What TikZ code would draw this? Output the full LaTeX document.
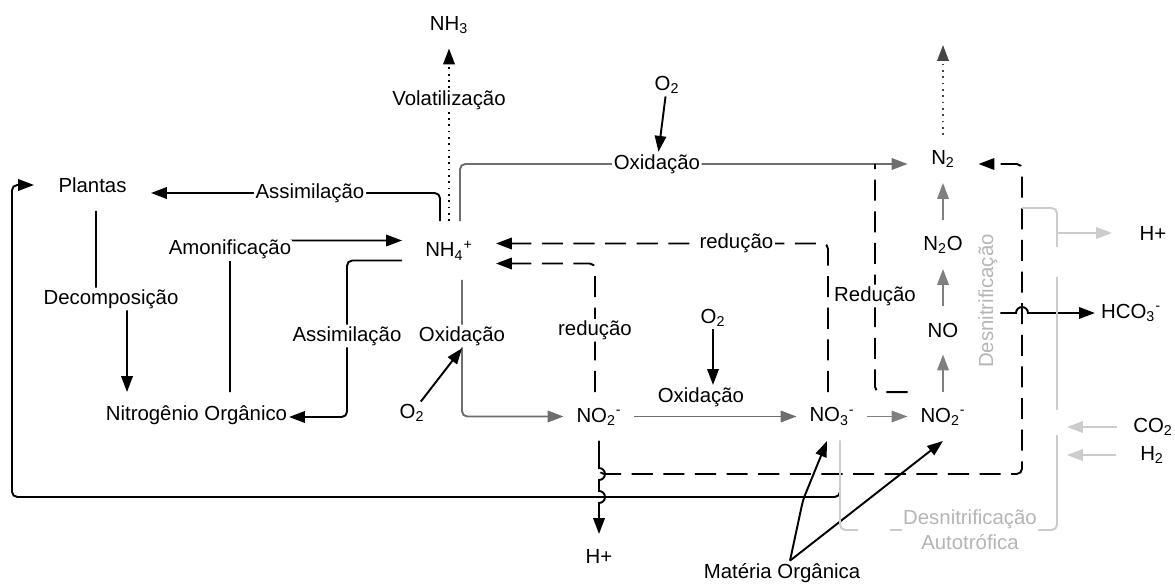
\documentclass[tikz,border=0pt]{standalone}
\usepackage{fontspec}
\setmainfont{Liberation Sans}
\usetikzlibrary{arrows.meta,calc}
\definecolor{oxgray}{HTML}{6E6E6E}
\definecolor{chaingray}{HTML}{808080}
\definecolor{n2gray}{HTML}{444444}
\definecolor{paleline}{HTML}{CCCCCC}
\definecolor{paletext}{HTML}{B5B5B5}
\begin{document}
\begin{tikzpicture}[x=0.02cm, y=-0.02cm, line width=1.1pt, rounded corners=3pt,
  every node/.style={font=\fontsize{11.6}{14}\selectfont, inner sep=1pt},
  arr/.style={-{Triangle[length=9pt,width=6.5pt]}},
  dashline/.style={dash pattern=on 12pt off 6pt},
  dotline/.style={dash pattern=on 1pt off 2.6pt},
  lbl/.style={fill=white},
  chem/.style={minimum width=1.38cm, minimum height=0.94cm, inner sep=0pt}]
\useasboundingbox (0,0) rectangle (1175,584);

\node[minimum height=0.9cm] (nh3) at (449,25) {NH\textsubscript{3}};
\node (o2a) at (667,85) {O\textsubscript{2}};
\node[chem, minimum height=0.92cm] (n2) at (943,159) {N\textsubscript{2}};
\node[minimum width=2.3cm, minimum height=1cm, inner sep=0pt] (plantas) at (92.5,185) {Plantas};
\node[minimum width=1.84cm, minimum height=1.14cm, inner sep=0pt] (nh4) at (449,250.5) {NH\textsubscript{4}\textsuperscript{+}};
\node[chem] (n2o) at (943,244.5) {N\textsubscript{2}O};
\node[minimum width=1.6cm] (hpr) at (1153,233) {H+};
\node[inner xsep=3pt] (hco3) at (1131,313) {HCO\textsubscript{3}\textsuperscript{-}};
\node[chem] (no) at (943,330) {NO};
\node (o2b) at (713,318) {O\textsubscript{2}};
\node[minimum height=0.88cm, inner xsep=0.5pt] (nitorg) at (196.5,415) {Nitrogênio Orgânico};
\node (o2c) at (412,413) {O\textsubscript{2}};
\node[chem] (no2a) at (599,416.5) {NO\textsubscript{2}\textsuperscript{-}};
\node[chem] (no3) at (832,416.5) {NO\textsubscript{3}\textsuperscript{-}};
\node[chem] (no2b) at (943,416.5) {NO\textsubscript{2}\textsuperscript{-}};
\node[minimum width=1.4cm] (co2) at (1153,427) {CO\textsubscript{2}};
\node[minimum width=1.4cm] (h2) at (1152,455) {H\textsubscript{2}};
\node[minimum height=0.84cm] (hpb) at (599,556) {H+};
\node (matorg) at (782,573) {Matéria Orgânica};
\node[rotate=90, text=paletext] (desn) at (988,301) {Desnitrificação};
\node[lbl, text=paletext, align=center] (desnauto) at (970,530) {Desnitrificação\\Autotrófica};

\coordinate (n2top) at (943,45);
\coordinate (redjoin) at (875,164);
\coordinate (hbranch) at (1022,208);
\coordinate (hsplit) at (1057,233);
\coordinate (co2end) at (1067,427);
\coordinate (h2end) at (1067,455);

% plantas loop (under the grey bracket)
\draw[arr] ($(no3.south)+(8,0)$) |- (12,497) |- (plantas.west);

% volatilizacao
\draw[arr, dotline] (nh4.north) -- node[lbl, pos=0.7] {Volatilização} (nh3.south);
\draw[arr, dotline, n2gray] (n2.north) -- (n2top);

% oxidacao to N2
\draw[arr, oxgray] ($(nh4.north)+(11,0)$) |- node[pos=0.72, lbl, text=black] (oxtop) {Oxidação} ($(n2.west)+(0,5)$);
\draw[arr] (o2a) -- (oxtop);

% assimilacao / amonificacao / decomposicao
\draw[arr] ($(nh4.north)+(-9,0)$) |- node[pos=0.725, lbl] {Assimilação} ($(plantas.east)+(0,8)$);
\draw[arr] ($(nitorg.north)+(33.5,0)$) |- node[pos=0.47, lbl] {Amonificação} ($(nh4.west)+(0,-10)$);
\draw[arr] ($(plantas.south)+(3.5,0)$) |- (111,299) node[lbl] {Decomposição} -| ($(nitorg.north)+(-69.5,0)$);
\draw[arr] ($(nh4.west)+(0,10)$) -| (347,336) node[lbl] {Assimilação} |- ($(nitorg.east)+(0,2)$);

% nitrificacao
\draw[arr, oxgray] ($(nh4.south)+(13,0)$) -- (462,336) node[lbl, text=black] (oxleft) {Oxidação} |- (no2a.west);
\draw[arr] (o2c) -- (oxleft.south);
\draw[arr, oxgray] (no2a) -- node[pos=0.41, above=4pt, text=black] (oxmid) {Oxidação} (no3);
\draw[arr] (o2b) -- (o2b |- oxmid.north);

% desnitrificacao
\draw[arr, chaingray] (no3) -- (no2b);
\draw[arr, chaingray] (no2b) -- (no);
\draw[arr, chaingray] (no) -- (n2o);
\draw[arr, chaingray] (n2o) -- (n2);
\draw[dashline] (no2b.north west) -| (875,296) node[lbl] {Redução} -- (redjoin);

% reducao to NH4+
\draw[arr, dashline] ($(no3.north)+(-4,0)$) |- node[pos=0.638, lbl] {redução} ($(nh4.east)+(0,-7)$);
\draw[arr, dashline] ($(no2a.north)+(-4,0)$) |- node[pos=0.24, lbl] {redução} ($(nh4.east)+(0,13)$);

% H+ and the long dashed return
\draw[arr, sharp corners] (no2a.south) -- (599,468) arc[start angle=90, end angle=-90, radius=0.12cm]
  -- (599,491) arc[start angle=90, end angle=-90, radius=0.12cm] -- (hpb.north);
\draw[arr, dashline] (no2a.south) |- (1022,474) |- ($(n2.east)+(0,5)$);

% materia organica
\draw[arr] ($(matorg.north)+(8,0)$) -- (803,500) -- ($(no3.south)+(-5,0)$);
\draw[arr] ($(matorg.north)+(8,0)$) -- (no2b.south);

% autotrofica
\draw[arr, sharp corners] ($(desn.south)+(0,12)$) -- (1016,313) arc[start angle=180, end angle=0, radius=0.12cm] -- (hco3.west);
\draw[paleline] (hbranch) -| (1057,247);
\draw[arr, paleline] (hsplit) -- (hpr.west);
\draw[arr, paleline] (co2) -- (co2end);
\draw[arr, paleline] (h2) -- (h2end);
\draw[paleline] (1057,277) -- (1057,410);
\draw[paleline] (1057,435) |- (1038,530);
\draw[paleline] ($(no3.south)+(8,0)$) |- (858,530);
\draw[paleline] (890,530) -- (902,530);
\end{tikzpicture}
\end{document}
